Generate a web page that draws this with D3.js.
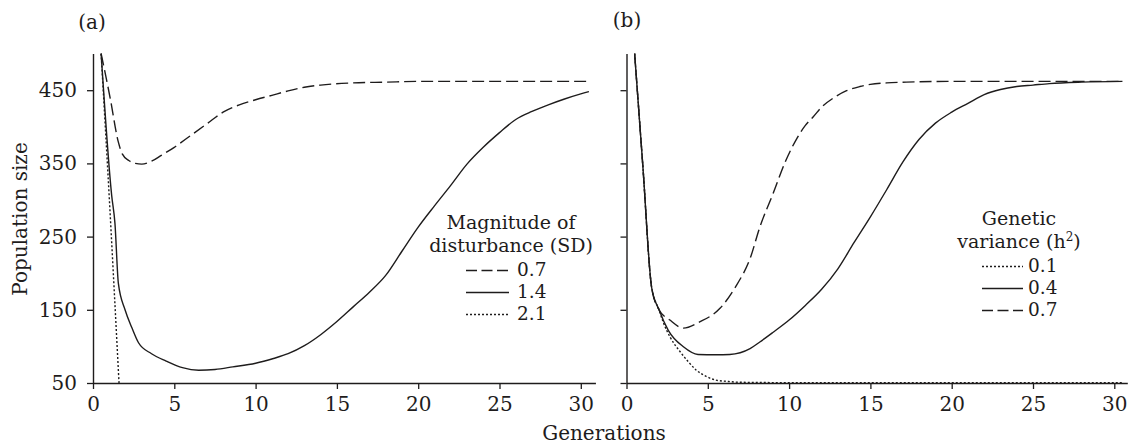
<!DOCTYPE html>
<html>
<head>
<meta charset="utf-8">
<script src="https://cdnjs.cloudflare.com/ajax/libs/d3/7.8.5/d3.min.js"></script>
<style>
  body { margin: 0; background: #fff; }
  svg text { font-family: "DejaVu Serif", serif; fill: #1e1c1c; }
</style>
</head>
<body>
<div id="chart"></div>
<script>
// ---- data ----
var genTicks = [0, 5, 10, 15, 20, 25, 30];
var popTicks = [50, 150, 250, 350, 450];

// panel (a): magnitude of disturbance (SD)
var aLabels = ["0.7", "1.4", "2.1"];
var aSD07 = [[0.5,500],[1.05,440],[1.56,379],[1.8,363],[2.2,354],[2.6,350],[3.0,349],[3.6,353],[4.2,361],[5,372],[6,388],[7,404],[8,420],[9,430],[10,437],[11,443],[12,449],[13,454],[14,457],[16,460],[18,461],[20,462],[25,462],[30.5,462]];
var aSD14 = [[0.5,500],[1.15,306],[1.35,268],[1.56,186],[1.97,150],[2.4,125],[2.8,105],[3.6,90],[4.5,80],[5.5,71],[6.5,67.5],[7.5,68.5],[8.6,72],[10,77],[11.1,83.5],[12,90],[13,101],[14,116],[15,134],[16,154],[17,174],[18,197],[19,230],[20,263],[21,292],[22,320],[23,349],[24,372],[25,392],[26,410],[27,421],[28,430],[29,438],[30,445],[30.5,448]];
var aSD21 = [[0.5,500],[1.05,283],[1.6,50]];

// panel (b): genetic variance (h2)
var bLabels = ["0.1", "0.4", "0.7"];
var bH01 = [[0.5,500],[1.0,348],[1.55,180],[2.0,150],[2.26,133],[2.7,112],[3.29,93],[3.8,79],[4.3,67.5],[4.9,59],[5.5,54],[6.3,52],[7,51],[10,50.5],[30.5,50.5]];
var bH04 = [[0.5,500],[1.0,348],[1.55,180],[2.0,150],[2.57,122],[3.5,99.5],[4.4,89],[5.5,88.5],[6.35,89],[7.6,97],[8.2,106],[9,119],[10,136],[11,156],[12,178],[13,206],[14,242],[15,277],[16,314],[17,352],[18,383],[19,405],[20,420],[21,432],[22,444],[23,451],[24,455],[25,457],[26,459],[28,461],[30.5,462]];
var bH07 = [[0.5,500],[1.0,348],[1.55,180],[2.0,150],[2.67,136],[3.5,125],[4.5,133.5],[5.75,152],[6.78,184],[7.6,220],[8.2,263],[9,308],[9.8,354],[10.5,385],[11,402],[11.5,414],[12,427],[12.7,439],[13.5,449],[14.35,455],[15,458],[16,460],[17.2,461],[20,462],[30.5,462]];

// ---- layout ----
var W = 1128, H = 445;
var svg = d3.select("#chart").append("svg")
  .attr("width", W).attr("height", H);

var y = d3.scaleLinear().domain([50, 500]).range([383, 53.6]);
var k = 16.26; // px per generation
var xa = d3.scaleLinear().domain([0, 30.9]).range([93, 93 + 30.9 * k]);
var xb = d3.scaleLinear().domain([0, 30.8]).range([626.5, 626.5 + 30.8 * k]);

var solid = null, dashed = "12,5", dotted = "2,2";
var ink = "#1e1c1c";

function drawAxes(x, showLabels) {
  var gx = svg.append("g")
    .attr("transform", "translate(0,383)")
    .call(d3.axisBottom(x).tickValues(genTicks).tickSize(6).tickSizeOuter(0).tickPadding(8));
  var gy = svg.append("g")
    .attr("transform", "translate(" + x(0) + ",0)")
    .call(d3.axisLeft(y).tickValues(popTicks).tickSize(6).tickSizeOuter(0).tickPadding(10));
  [gx, gy].forEach(function(g) {
    g.select(".domain").attr("stroke", ink).attr("stroke-width", 1.4);
    g.selectAll(".tick line").attr("stroke", ink).attr("stroke-width", 1.3);
    g.selectAll("text").style("font-size", "20px").attr("fill", ink);
  });
  if (!showLabels) gy.selectAll("text").remove();
}

function drawLine(x, data, dash) {
  var line = d3.line()
    .x(function(d) { return x(d[0]); })
    .y(function(d) { return y(d[1]); })
    .curve(d3.curveMonotoneX);
  svg.append("path")
    .datum(data)
    .attr("fill", "none")
    .attr("stroke", ink)
    .attr("stroke-width", 1.4)
    .attr("stroke-dasharray", dash)
    .attr("d", line);
}

drawAxes(xa, true);
drawAxes(xb, false);

drawLine(xa, aSD07, dashed);
drawLine(xa, aSD14, solid);
drawLine(xa, aSD21, dotted);

drawLine(xb, bH01, dotted);
drawLine(xb, bH04, solid);
drawLine(xb, bH07, dashed);

// panel labels
svg.append("text").attr("x", 92).attr("y", 29).attr("text-anchor", "middle")
  .style("font-size", "20px").text("(a)");
svg.append("text").attr("x", 627).attr("y", 27).attr("text-anchor", "middle")
  .style("font-size", "20px").text("(b)");

// axis titles
svg.append("text")
  .attr("transform", "translate(27,219) rotate(-90)")
  .attr("text-anchor", "middle")
  .style("font-size", "20px")
  .text("Population size");
svg.append("text")
  .attr("x", 604).attr("y", 440)
  .attr("text-anchor", "middle")
  .style("font-size", "20px")
  .text("Generations");

// legends
function legend(cx, titleY, title1, title2, lx0, lx1, tx, rows, dashes, supTitle) {
  svg.append("text").attr("x", cx).attr("y", titleY).attr("text-anchor", "middle")
    .style("font-size", "19px").text(title1);
  var t2 = svg.append("text").attr("x", cx).attr("y", titleY + 22.5).attr("text-anchor", "middle")
    .style("font-size", "19px");
  if (supTitle) {
    t2.append("tspan").text("variance (h");
    t2.append("tspan").attr("baseline-shift", "super").style("font-size", "12px").text("2");
    t2.append("tspan").text(")");
  } else {
    t2.text(title2);
  }
  rows.forEach(function(r, i) {
    var base = titleY + 47 + i * 22;
    var ly = base - 5.5;
    svg.append("line")
      .attr("x1", lx0).attr("x2", lx1)
      .attr("y1", ly).attr("y2", ly)
      .attr("stroke", ink).attr("stroke-width", 1.3)
      .attr("stroke-dasharray", dashes[i]);
    svg.append("text").attr("x", tx).attr("y", base)
      .style("font-size", "18.5px").text(r);
  });
}

legend(511, 229, "Magnitude of", "disturbance (SD)", 466, 509, 517,
  aLabels, ["11,4.5", solid, dotted], false);
legend(1019, 225, "Genetic", null, 982, 1023, 1028,
  bLabels, [dotted, solid, "11,4.5"], true);
</script>
</body>
</html>
